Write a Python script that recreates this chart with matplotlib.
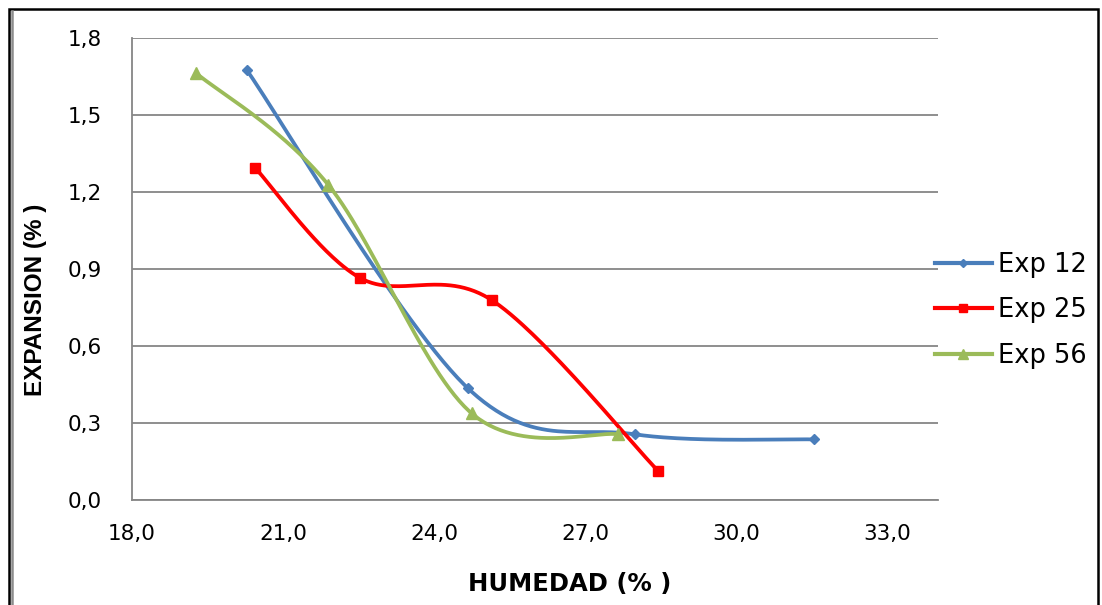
import numpy as np
import matplotlib
matplotlib.use("Agg")
import matplotlib.pyplot as plt
from matplotlib.patches import Rectangle
from matplotlib.lines import Line2D

# Swelling test results: moisture content (%) vs expansion (%)
exp12_humedad = [20.28, 24.67, 27.98, 31.54]
exp12_expansion = [1.675, 0.435, 0.256, 0.236]

exp25_humedad = [20.44, 22.52, 25.14, 28.44]
exp25_expansion = [1.295, 0.866, 0.779, 0.114]

exp56_humedad = [19.28, 21.90, 24.74, 27.65]
exp56_expansion = [1.662, 1.227, 0.338, 0.256]

series_names = ["Exp 12", "Exp 25", "Exp 56"]
x_ticks = [18.0, 21.0, 24.0, 27.0, 30.0, 33.0]
y_ticks = [0.0, 0.3, 0.6, 0.9, 1.2, 1.5, 1.8]


def smooth_curve(xs, ys, steps=60):
    """Piecewise cubic Bezier through the points (Catmull-Rom tangents)."""
    p = np.column_stack([xs, ys]).astype(float)
    n = len(p)
    out = [p[0]]
    t = np.linspace(0, 1, steps)[1:, None]
    for i in range(n - 1):
        p0 = p[max(i - 1, 0)]
        p1 = p[i]
        p2 = p[i + 1]
        p3 = p[min(i + 2, n - 1)]
        c1 = p1 + (p2 - p0) / 6.0
        c2 = p2 - (p3 - p1) / 6.0
        seg = ((1 - t) ** 3) * p1 + 3 * ((1 - t) ** 2) * t * c1 \
            + 3 * (1 - t) * t ** 2 * c2 + t ** 3 * p2
        out.extend(seg)
    out = np.array(out)
    return out[:, 0], out[:, 1]


def comma(v):
    return f"{v:.1f}".replace(".", ",")


W, H = 1102, 605
fig = plt.figure(figsize=(W / 100, H / 100), dpi=100)
ax = fig.add_axes([132 / W, 1 - 500 / H, (938 - 132) / W, (500 - 38) / H])

styles = [
    dict(color="#4A7EBB", marker="D", ms=5.5),
    dict(color="#FF0000", marker="s", ms=7),
    dict(color="#9BBB59", marker="^", ms=8.5),
]
data = [
    (exp12_humedad, exp12_expansion),
    (exp25_humedad, exp25_expansion),
    (exp56_humedad, exp56_expansion),
]

handles = []
for (xs, ys), st, name in zip(data, styles, series_names):
    sx, sy = smooth_curve(xs, ys)
    ax.plot(sx, sy, color=st["color"], lw=2.7, solid_capstyle="round", zorder=3)
    ax.plot(xs, ys, linestyle="none", marker=st["marker"], ms=st["ms"],
            color=st["color"], mec=st["color"], zorder=4)
    handles.append(Line2D([], [], color=st["color"], lw=3.0,
                          marker=st["marker"], ms=st["ms"] - 1,
                          mec=st["color"], label=name))

ax.set_xlim(18, 34)
ax.set_ylim(0, 1.8)
ax.set_xticks(x_ticks)
ax.set_yticks(y_ticks)
ax.set_xticklabels([comma(v) for v in x_ticks])
ax.set_yticklabels([comma(v) for v in y_ticks])
ax.tick_params(axis="x", length=0, pad=17, labelsize=15.5, labelcolor="black")
ax.tick_params(axis="y", length=0, pad=22, labelsize=15.5, labelcolor="black")
for lab in ax.get_xticklabels() + ax.get_yticklabels():
    lab.set_family("DejaVu Sans")

ax.grid(axis="y", color="#868686", lw=1.3)
ax.set_axisbelow(True)
for side in ("top", "right"):
    ax.spines[side].set_visible(False)
for side in ("left", "bottom"):
    ax.spines[side].set_color("#868686")
    ax.spines[side].set_linewidth(1.3)

fig.text(570 / W, 1 - 584 / H, "HUMEDAD (% )", ha="center", va="center",
         fontsize=17.5, fontweight="bold", family="DejaVu Sans")
fig.text(36 / W, 1 - 300 / H, "EXPANSION (% )", ha="center", va="center",
         rotation=90, fontsize=17.5, fontweight="bold",
         family="Liberation Sans")

fig.legend(handles=handles, loc="upper left",
           bbox_to_anchor=(935 / W, 1 - 252 / H), bbox_transform=fig.transFigure,
           frameon=False, handlelength=2.2, handletextpad=0.25,
           labelspacing=0.75, borderpad=0, borderaxespad=0, numpoints=1,
           prop=dict(family="DejaVu Sans", size=18.5))

# Outer chart border
fig.add_artist(Rectangle((9 / W, -0.05), (1098 - 9) / W, 1.05 - 9 / H,
                         transform=fig.transFigure, fill=False,
                         edgecolor="black", lw=1.8))
fig.add_artist(Line2D([11.5 / W, 11.5 / W], [0, 1 - 11 / H],
                      transform=fig.transFigure, color="#8c8c8c", lw=1.8))

fig.savefig("out.png", dpi=100)
